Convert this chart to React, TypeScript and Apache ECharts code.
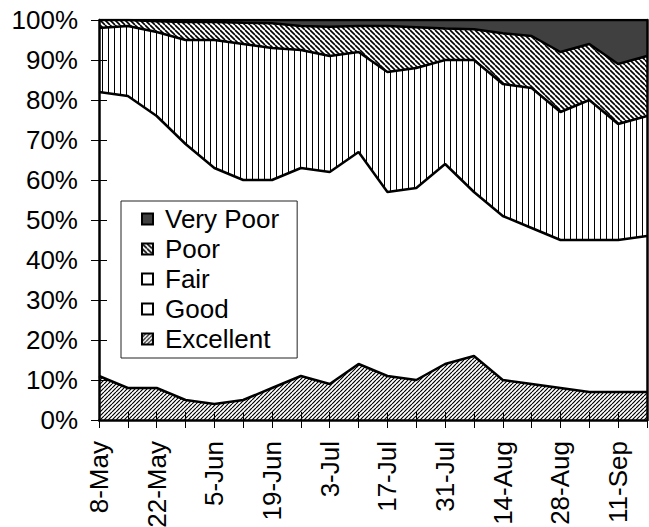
import React, { useEffect, useRef } from "react";
import * as echarts from "echarts";

const weeks = [
  "8-May", "15-May", "22-May", "29-May", "5-Jun", "12-Jun", "19-Jun", "26-Jun",
  "3-Jul", "10-Jul", "17-Jul", "24-Jul", "31-Jul", "7-Aug", "14-Aug", "21-Aug",
  "28-Aug", "4-Sep", "11-Sep", "18-Sep",
];

// percentages of each rating per week (bottom to top)
const excellent = [11, 8, 8, 5, 4, 5, 8, 11, 9, 14, 11, 10, 14, 16, 10, 9, 8, 7, 7, 7];
const good = [71, 73, 68, 64, 59, 55, 52, 52, 53, 53, 46, 48, 50, 41, 41, 39, 37, 38, 38, 39];
const fair = [16, 17.5, 21, 26, 32, 34, 33, 29.5, 29, 25, 30, 30, 26, 33, 33, 35, 32, 35, 29, 30];
const poor = [2, 1.5, 2.7, 4.5, 4.5, 5.3, 6.2, 6, 7.3, 6.5, 11.5, 10.2, 7.9, 7.7, 12.7, 13, 15, 14, 15, 15];
const veryPoor = [0, 0, 0.3, 0.5, 0.5, 0.7, 0.8, 1.5, 1.7, 1.5, 1.5, 1.8, 2.1, 2.3, 3.3, 4, 8, 6, 11, 9];

const FONT = "'Liberation Sans', Arial, sans-serif";

function hatch(size: number, dir: string, lw: number) {
  const c = document.createElement("canvas");
  c.width = size;
  c.height = size;
  const ctx = c.getContext("2d")!;
  ctx.fillStyle = "#fff";
  ctx.fillRect(0, 0, size, size);
  ctx.fillStyle = "#000";
  ctx.strokeStyle = "#000";
  if (dir === "|") {
    ctx.fillRect(0, 0, 1, size);
    return c;
  }
  ctx.lineWidth = lw;
  ctx.beginPath();
  for (let k = -1; k <= 1; k++) {
    if (dir === "/") {
      ctx.moveTo(k * size, size);
      ctx.lineTo(k * size + size, 0);
    } else {
      ctx.moveTo(k * size, 0);
      ctx.lineTo(k * size + size, size);
    }
  }
  ctx.stroke();
  return c;
}

export default function App() {
  const ref = useRef<HTMLDivElement>(null);
  useEffect(() => {
    if (!ref.current) return;
    const chart = echarts.init(ref.current, undefined, { renderer: "svg" });
    const pExcellent = { image: hatch(4, "/", 1.2), repeat: "repeat" };
    const pPoor = { image: hatch(5, "\\", 1.6), repeat: "repeat" };
    const pFair = { image: hatch(6, "|", 1), repeat: "repeat" };
    const dark = "#404040";

    const defs = [
      { name: "Excellent", data: excellent, color: pExcellent, legend: pExcellent, z: 7 },
      { name: "Good", data: good, color: "#fff", legend: "#fff", z: 6 },
      { name: "Fair", data: fair, color: pFair, legend: "#fff", z: 5 },
      { name: "Poor", data: poor, color: pPoor, legend: pPoor, z: 4 },
      { name: "Very Poor", data: veryPoor, color: dark, legend: dark, z: 3 },
    ];

    const series = defs.map((d) => ({
      name: d.name,
      type: "line",
      stack: "total",
      data: d.data,
      symbol: "none",
      z: d.z,
      lineStyle: { color: "#000", width: 2.5 },
      itemStyle: { color: d.legend },
      areaStyle: { color: d.color, opacity: 1 },
    }));

    const legendData = defs
      .slice()
      .reverse()
      .map((d) => ({
        name: d.name,
        icon: "rect",
        itemStyle: { color: d.legend, borderColor: "#000", borderWidth: 2 },
      }));

    chart.setOption({
      animation: false,
      grid: {
        left: 99,
        right: 2,
        top: 20,
        bottom: 107,
        containLabel: false,
        outerBoundsMode: "none",
      },
      legend: {
        orient: "vertical",
        left: 121,
        top: 201,
        z: 20,
        data: legendData,
        backgroundColor: "#fff",
        borderColor: "#222",
        borderWidth: 1,
        padding: [5, 18, 6, 20],
        itemWidth: 11,
        itemHeight: 11,
        itemGap: 4,
        selectedMode: false,
        textStyle: { fontFamily: FONT, fontSize: 26, color: "#000", padding: [0, 0, 0, 7] },
      },
      xAxis: [
        {
          type: "category",
          data: weeks,
          boundaryGap: false,
          position: "bottom",
          z: 10,
          axisLine: { lineStyle: { color: "#000", width: 2.5 } },
          axisTick: { show: true, inside: false, length: 8, interval: 0, lineStyle: { color: "#000", width: 1 } },
          axisLabel: {
            interval: 1,
            rotate: 90,
            margin: 21,
            fontFamily: FONT,
            fontSize: 26,
            color: "#000",
          },
          splitLine: { show: false },
        },
        {
          type: "category",
          data: weeks,
          boundaryGap: false,
          position: "bottom",
          z: 10,
          axisLine: { show: false },
          axisTick: { show: true, inside: true, length: 8, interval: 0, lineStyle: { color: "#000", width: 1 } },
          axisLabel: { show: false },
          splitLine: { show: false },
        },
      ],
      yAxis: [
        {
          type: "value",
          min: 0,
          max: 100,
          interval: 10,
          position: "left",
          z: 10,
          axisLine: { show: true, lineStyle: { color: "#000", width: 2.5 } },
          axisTick: { show: true, inside: false, length: 8, lineStyle: { color: "#000", width: 1 } },
          axisLabel: { formatter: "{value}%", margin: 21, fontFamily: FONT, fontSize: 26, color: "#000" },
          splitLine: { show: false },
        },
        {
          type: "value",
          min: 0,
          max: 100,
          interval: 10,
          position: "left",
          z: 10,
          axisLine: { show: false },
          axisTick: { show: true, inside: true, length: 8, lineStyle: { color: "#000", width: 1 } },
          axisLabel: { show: false },
          splitLine: { show: false },
        },
        {
          type: "value",
          min: 0,
          max: 100,
          interval: 10,
          position: "right",
          z: 10,
          axisLine: { show: true, lineStyle: { color: "#000", width: 2.5 } },
          axisTick: { show: false },
          axisLabel: { show: false },
          splitLine: { show: false },
        },
      ],
      series,
    });
    return () => chart.dispose();
  }, []);
  return (
    <div
      ref={ref}
      style={{ position: "absolute", left: 0, top: 0, width: 649, height: 527, background: "#fff" }}
    />
  );
}
